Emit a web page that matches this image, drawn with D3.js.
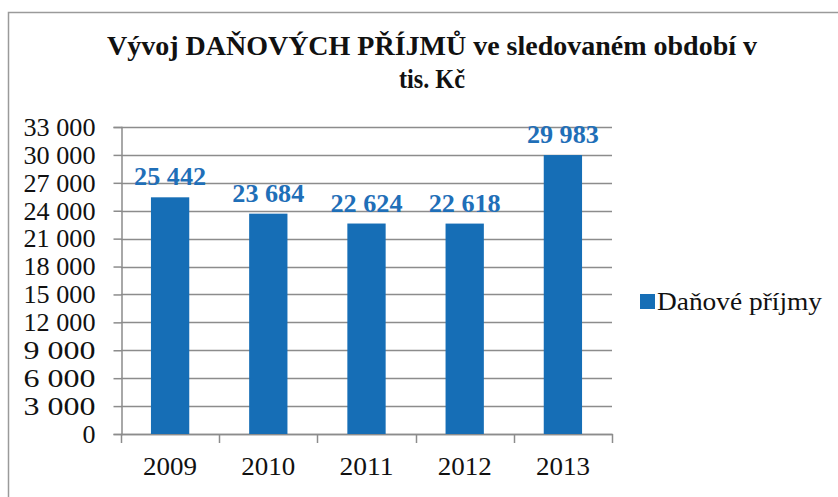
<!DOCTYPE html>
<html><head><meta charset="utf-8">
<script src="https://cdn.jsdelivr.net/npm/d3@7"></script>
<style>
html,body{margin:0;padding:0;background:#fff;}
svg{display:block;}
</style></head>
<body>
<svg id="chart" width="838" height="497"></svg>
<script>
const titleLines = ["Vývoj DAŇOVÝCH PŘÍJMŮ ve sledovaném období v", "tis. Kč"];
const years = ["2009", "2010", "2011", "2012", "2013"];
const values = [25442, 23684, 22624, 22618, 29983];
const yTicks = [0, 3000, 6000, 9000, 12000, 15000, 18000, 21000, 24000, 27000, 30000, 33000];
const seriesName = "Daňové příjmy";

const FONT = "'Liberation Serif','Times New Roman',Times,serif";
const blue = "#166eb6";
const labelBlue = "#1f6fb8";
const grid = "#8c8c8c";

const svg = d3.select("#chart");
const fmt = v => d3.format(",")(v).replace(/,/g, " ");

// chart border
svg.append("rect").attr("x", 8.5).attr("y", 12.5).attr("width", 840).attr("height", 500)
  .attr("fill", "#fff").attr("stroke", "#9a9a9a").attr("stroke-width", 1.5);

// title
const title = svg.append("g").attr("font-family", FONT);
title.append("text").attr("x", 432).attr("y", 55).attr("text-anchor", "middle")
  .attr("font-size", 28).attr("font-weight", "bold").attr("fill", "#111")
  .attr("textLength", 650).attr("lengthAdjust", "spacingAndGlyphs").text(titleLines[0]);
title.append("text").attr("x", 432).attr("y", 88).attr("text-anchor", "middle")
  .attr("font-size", 28).attr("font-weight", "bold").attr("fill", "#111")
  .attr("textLength", 66).attr("lengthAdjust", "spacingAndGlyphs").text(titleLines[1]);

const plot = {left: 121, right: 612, top: 127, bottom: 434};
const x = d3.scaleBand().domain(years).range([plot.left, plot.right]).padding(0);
const y = d3.scaleLinear().domain([0, 33000]).range([plot.bottom, plot.top]);

// gridlines
svg.append("g").selectAll("line").data(yTicks).join("line")
  .attr("x1", plot.left).attr("x2", plot.right)
  .attr("y1", d => Math.round(y(d)) + 0.5).attr("y2", d => Math.round(y(d)) + 0.5)
  .attr("stroke", grid).attr("stroke-width", 1.5);

// y axis
const yAxis = svg.append("g").attr("transform", `translate(${plot.left + 0.5},0)`)
  .call(d3.axisLeft(y).tickValues(yTicks).tickSize(8).tickPadding(18).tickFormat(fmt))
  .attr("font-family", FONT);
yAxis.select(".domain").attr("stroke", grid).attr("stroke-width", 1.5);
yAxis.selectAll(".tick line").attr("stroke", grid).attr("stroke-width", 1.5);
yAxis.selectAll(".tick text").attr("font-size", 26).attr("fill", "#111")
  .attr("font-family", FONT)
  .attr("textLength", d => fmt(d).length > 1 ? 72 : null)
  .attr("lengthAdjust", "spacingAndGlyphs");

// x axis
const xAxisG = svg.append("g").attr("font-family", FONT);
xAxisG.append("line").attr("x1", plot.left).attr("x2", plot.right + 1)
  .attr("y1", plot.bottom + 0.5).attr("y2", plot.bottom + 0.5)
  .attr("stroke", grid).attr("stroke-width", 1.5);
const bounds = years.map(d => x(d)).concat([plot.right]);
xAxisG.selectAll("line.tk").data(bounds).join("line").attr("class", "tk")
  .attr("x1", d => Math.round(d) + 0.5).attr("x2", d => Math.round(d) + 0.5)
  .attr("y1", plot.bottom).attr("y2", plot.bottom + 9)
  .attr("stroke", grid).attr("stroke-width", 1.5);
xAxisG.selectAll("text").data(years).join("text")
  .attr("x", d => x(d) + x.bandwidth() / 2).attr("y", 475)
  .attr("text-anchor", "middle").attr("font-size", 26).attr("fill", "#111")
  .attr("textLength", 54).attr("lengthAdjust", "spacingAndGlyphs").text(d => d);

// bars
const barW = x.bandwidth() * 0.39;
svg.append("g").selectAll("rect").data(values).join("rect")
  .attr("x", (d, i) => x(years[i]) + x.bandwidth() / 2 - barW / 2)
  .attr("y", d => y(d)).attr("width", barW).attr("height", d => plot.bottom - y(d))
  .attr("fill", blue);

// data labels
svg.append("g").attr("font-family", FONT).selectAll("text").data(values).join("text")
  .attr("x", (d, i) => x(years[i]) + x.bandwidth() / 2)
  .attr("y", d => y(d) - 12)
  .attr("text-anchor", "middle").attr("font-size", 26).attr("font-weight", "bold")
  .attr("fill", labelBlue)
  .attr("textLength", 72).attr("lengthAdjust", "spacingAndGlyphs")
  .text(d => fmt(d));

// legend
const lg = svg.append("g").attr("font-family", FONT);
lg.append("rect").attr("x", 640).attr("y", 294).attr("width", 15).attr("height", 15).attr("fill", blue);
lg.append("text").attr("x", 657).attr("y", 310).attr("font-size", 25).attr("fill", "#111")
  .attr("textLength", 165).attr("lengthAdjust", "spacingAndGlyphs").text(seriesName);
</script>
</body></html>
